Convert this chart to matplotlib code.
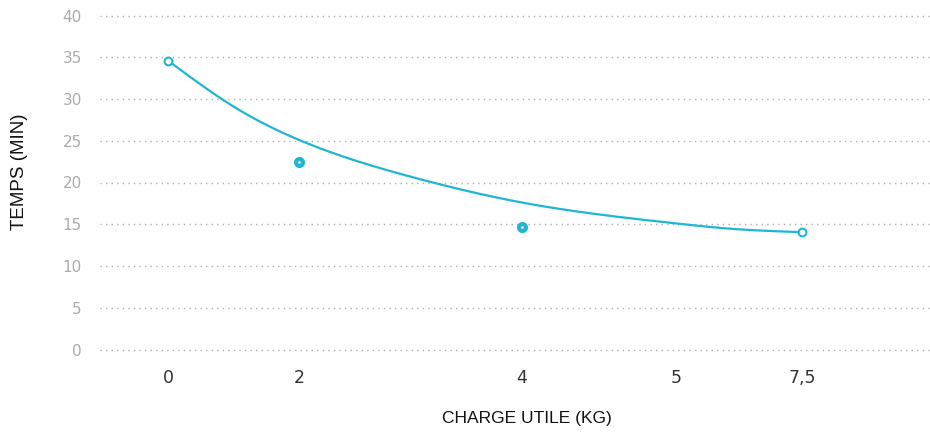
import numpy as np
import matplotlib
matplotlib.use('Agg')
import matplotlib.pyplot as plt

# valeurs
charge_ticks = [0, 2, 4, 5, 7.5]
charge_labels = ['0', '2', '4', '5', '7,5']

# courbe de tendance (lue le long du trace)
courbe_x = [0, 1, 2, 3, 4, 5, 6, 7.5]
courbe_y = [34.6, 29.1, 25.1, 20.7, 17.6, 15.1, 14.5, 14.05]

# points mesures
points_x = [2, 4]
points_y = [22.5, 14.7]

# extremites de la courbe (marqueurs creux)
bouts_x = [0, 7.5]
bouts_y = [34.6, 14.05]

couleur = '#1fb6d2'

# echelle x non lineaire (espacement du graphique d'origine)
knots_val = [-1, 0, 2, 4, 5, 7.5, 10]
knots_pos = [100, 168, 299, 522, 676, 802, 930]


def fwd(v):
    return np.interp(v, knots_val, knots_pos)


def inv(p):
    return np.interp(p, knots_pos, knots_val)


def spline(x, y, xs):
    # spline cubique naturelle pour le trace lisse
    x = np.asarray(x, float)
    y = np.asarray(y, float)
    n = len(x)
    h = np.diff(x)
    A = np.zeros((n, n))
    b = np.zeros(n)
    A[0, 0] = A[-1, -1] = 1
    for i in range(1, n - 1):
        A[i, i - 1] = h[i - 1]
        A[i, i] = 2 * (h[i - 1] + h[i])
        A[i, i + 1] = h[i]
        b[i] = 3 * ((y[i + 1] - y[i]) / h[i] - (y[i] - y[i - 1]) / h[i - 1])
    c = np.linalg.solve(A, b)
    bb = (y[1:] - y[:-1]) / h - h * (2 * c[:-1] + c[1:]) / 3
    d = (c[1:] - c[:-1]) / (3 * h)
    idx = np.clip(np.searchsorted(x, xs) - 1, 0, n - 2)
    t = xs - x[idx]
    return y[idx] + bb[idx] * t + c[idx] * t**2 + d[idx] * t**3


fig = plt.figure(figsize=(9.3, 4.32), dpi=100)
ax = fig.add_axes([100 / 930, 1 - 349.5 / 432, 830 / 930, 334 / 432])
ax.set_xscale('function', functions=(fwd, inv))
ax.set_xlim(-1, 10)
ax.set_ylim(0, 40)

# courbe lisse calculee dans l'espace affiche
px = fwd(np.array(courbe_x))
ps = np.linspace(px[0], px[-1], 400)
ax.plot(inv(ps), spline(px, courbe_y, ps), color=couleur, lw=1.6, zorder=3)

ax.plot(bouts_x, bouts_y, 'o', ms=5.6, mfc='white', mec=couleur, mew=1.5, zorder=4)
ax.plot(points_x, points_y, 'o', ms=5, mfc='white', mec=couleur, mew=3, zorder=4)

ax.set_yticks(range(0, 41, 5))
ax.grid(axis='y', color='#b0b0b0', linestyle=(0, (1, 3)), lw=1)
for gl in ax.get_ygridlines():
    gl.set_clip_on(False)
ax.set_xticks(charge_ticks)
ax.set_xticklabels(charge_labels)
ax.xaxis.set_minor_locator(matplotlib.ticker.NullLocator())
ax.tick_params(axis='y', length=0, pad=13, labelsize=11, labelcolor='#ababab')
ax.tick_params(axis='x', length=0, pad=14, labelsize=12.5, labelcolor='#333333')
for s in ax.spines.values():
    s.set_visible(False)

fig.text(527 / 930, 1 - 418 / 432, 'CHARGE UTILE (KG)', ha='center', va='center',
         fontsize=12.5, color='#111111', family='Liberation Sans')
fig.text(20 / 930, 1 - 172 / 432, 'TEMPS (MIN)', ha='center', va='center', rotation=90,
         fontsize=13.5, color='#111111', family='Liberation Sans')

fig.savefig('out.png', dpi=100)
